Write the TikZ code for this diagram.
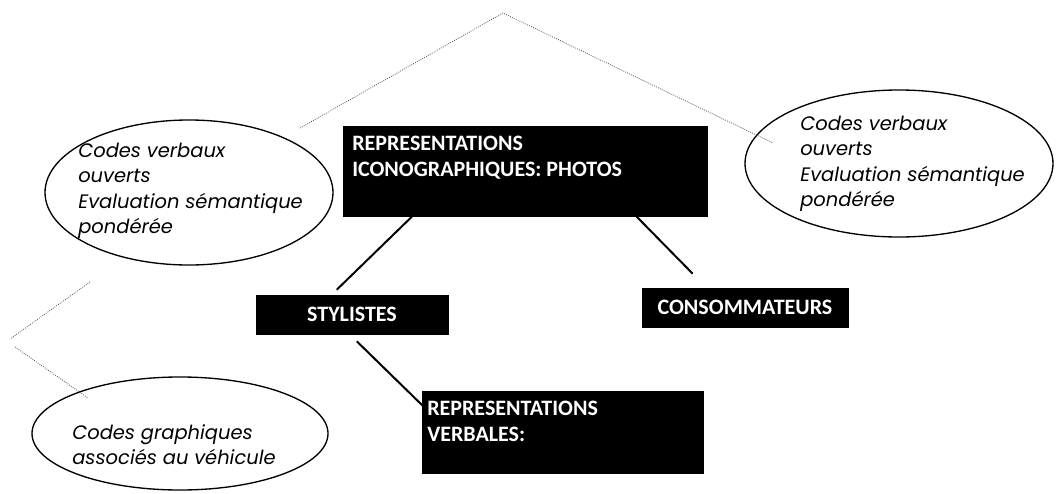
\documentclass[tikz,border=0pt]{standalone}
\usepackage{fontspec}
\setmainfont{Carlito}
\newfontfamily\notefont{Poppins}
\usetikzlibrary{shapes.geometric}
\newlength{\px}
\setlength{\px}{0.75pt}

\begin{document}
\begin{tikzpicture}[x=1\px, y=-1\px,
    blackbox/.style={draw=black, fill=black, inner sep=0pt},
    boxtext/.style={text=white, font=\bfseries\fontsize{16.5}{19}\selectfont, align=left, inner sep=0pt},
    bubble/.style={draw, ellipse, line width=1pt, inner sep=0pt},
    note/.style={font=\notefont\itshape\fontsize{14.6}{18.9}\selectfont, align=left, inner sep=0pt},
    link/.style={line width=1.5pt},
    hint/.style={densely dotted, black!70, line width=0.6pt}]
  \useasboundingbox (0,0) rectangle (1061,493);

  % the three ellipses
  \node[bubble, minimum width=288\px, minimum height=145\px] (codesL) at (189,192.5) {};
  \node[bubble, minimum width=308\px, minimum height=147\px] (codesR) at (899,163.5) {};
  \node[bubble, minimum width=296\px, minimum height=113\px] (graph) at (180,433.5) {};
  \node[note, anchor=north west] (codesLtxt) at (78,143) {Codes verbaux\\ouverts\\Evaluation sémantique\\pondérée};
  \node[note, anchor=north west] (codesRtxt) at (800,116) {Codes verbaux\\ouverts\\Evaluation sémantique\\pondérée};
  \node[note, anchor=north west] (graphtxt) at (72,424) {Codes graphiques\\associés au véhicule};

  % black boxes
  \node[blackbox, minimum width=364\px, minimum height=90\px, anchor=north west] (photos) at (343,126) {};
  \node[boxtext, anchor=north west] (photostxt) at (352,136) {REPRESENTATIONS\\ICONOGRAPHIQUES: PHOTOS};
  \node[blackbox, boxtext, minimum width=192\px, minimum height=39\px] (stylistes) at (352,314.5) {STYLISTES};
  \node[blackbox, boxtext, minimum width=206\px, minimum height=39\px] (conso) at (745,307.5) {CONSOMMATEURS};
  \node[blackbox, minimum width=281\px, minimum height=82\px, anchor=north west] (verbales) at (422,391) {};
  \node[boxtext, anchor=north west] (verbalestxt) at (427,401) {REPRESENTATIONS\\VERBALES:};

  % links
  \draw[link] ([xshift=69\px]photos.south west) -- ([xshift=81\px, yshift=5\px]stylistes.north west);
  \draw[link] ([xshift=-71\px]photos.south east) -- ([xshift=51\px, yshift=14\px]conso.north west);
  \draw[link] ([xshift=101\px, yshift=-7\px]stylistes.south west) -- ([xshift=1\px, yshift=-15\px]verbales.north west);

  % dotted guides
  \coordinate (apex) at (503,13);
  \coordinate (topL) at (300,128);
  \coordinate (topR) at (773,143);
  \coordinate (lowA) at (90,282);
  \coordinate (lowB) at (10,339);
  \coordinate (lowC) at (15,347);
  \coordinate (lowD) at (88,398);
  \draw[hint] (topL) -- (apex) -- (topR);
  \draw[hint] (lowA) -- (lowB);
  \draw[hint] (lowC) -- (lowD);
\end{tikzpicture}
\end{document}
